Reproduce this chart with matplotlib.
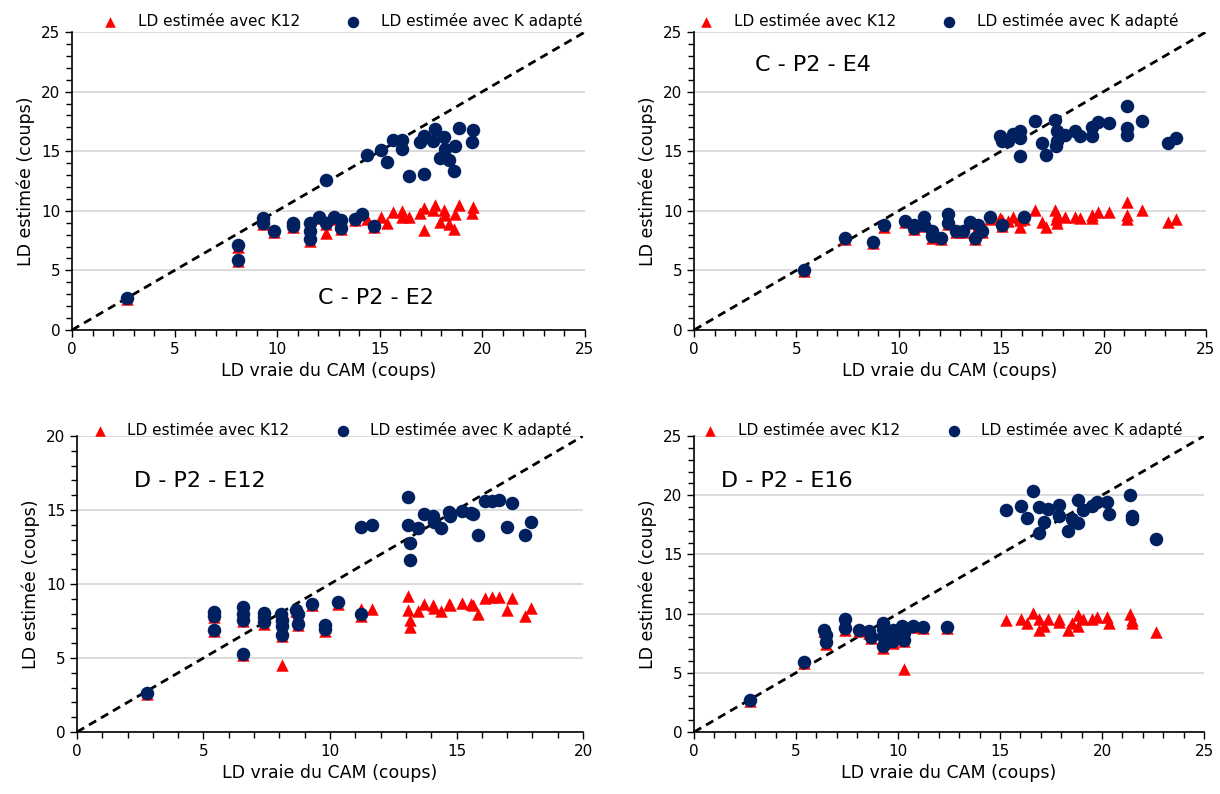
import matplotlib.pyplot as plt
from matplotlib.ticker import MultipleLocator

plt.rcParams['font.family'] = ['DejaVu Sans']

# C - P2 - E2
x_e2 = [2.7, 8.07, 8.07, 9.29, 9.29, 9.85, 10.76, 10.76, 11.59, 11.59, 11.59, 12.03, 12.39, 12.39,
        12.76, 13.13, 13.13, 13.77, 14.15, 14.4, 14.74, 15.04, 15.33, 15.62, 16.09, 16.09, 16.43,
        16.95, 17.14, 17.14, 17.61, 17.7, 17.92, 18.14, 18.2, 18.38, 18.63, 18.65, 18.85, 19.49, 19.53]
k12_e2 = [2.6, 7.0, 5.8, 9.3, 8.9, 8.2, 8.9, 8.6, 8.85, 8.2, 7.5, 9.4, 8.1, 8.9,
          9.35, 9.15, 8.45, 9.2, 9.7, 9.3, 8.65, 9.45, 8.95, 9.9, 9.95, 9.5, 9.5,
          9.85, 10.2, 8.4, 10.05, 10.45, 9.1, 10.1, 9.65, 8.9, 8.5, 9.7, 10.45, 9.85, 10.35]
kad_e2 = [2.7, 7.1, 5.9, 9.4, 9.0, 8.3, 9.0, 8.7, 8.95, 8.3, 7.6, 9.5, 12.6, 9.0,
          9.45, 9.25, 8.55, 9.3, 9.75, 14.65, 8.75, 15.1, 14.1, 15.9, 15.9, 15.15, 12.9,
          15.75, 16.3, 13.1, 15.85, 16.85, 14.4, 16.2, 15.2, 14.3, 13.35, 15.45, 16.95, 15.8, 16.8]

# C - P2 - E4
x_e4 = [5.38, 7.39, 8.73, 9.3, 10.32, 10.76, 10.76, 11.21, 11.21, 11.62, 11.62, 12.04, 12.38, 12.38,
        12.77, 13.11, 13.46, 13.7, 13.87, 14.07, 14.46, 14.92, 15.05, 15.05, 15.31, 15.56, 15.9,
        15.9, 15.9, 16.12, 16.66, 16.97, 17.19, 17.63, 17.73, 17.73, 17.67, 18.13, 18.61, 18.83,
        19.42, 19.45, 19.71, 20.26, 21.14, 21.14, 21.14, 21.87, 23.14, 23.55]
k12_e4 = [4.95, 7.6, 7.3, 8.65, 9.05, 8.7, 8.45, 9.4, 8.7, 8.2, 7.75, 7.65, 9.6, 8.85,
          8.2, 8.2, 9.0, 7.6, 8.7, 8.2, 9.35, 9.38, 8.75, 9.2, 9.16, 9.52, 9.38,
          8.63, 9.2, 9.35, 10.06, 9.05, 8.63, 10.06, 9.61, 8.99, 9.3, 9.44, 9.5, 9.38,
          9.61, 9.38, 9.89, 9.89, 10.73, 9.66, 9.3, 10.06, 9.07, 9.32]
kad_e4 = [5.05, 7.7, 7.42, 8.77, 9.15, 8.82, 8.55, 9.5, 8.82, 8.32, 7.85, 7.75, 9.7, 8.95,
          8.32, 8.32, 9.1, 7.7, 8.82, 8.32, 9.45, 16.27, 8.82, 15.88, 15.83, 16.44, 16.67,
          14.62, 16.11, 9.44, 17.51, 15.69, 14.65, 17.62, 16.67, 15.88, 15.41, 16.39, 16.67, 16.3,
          17.0, 16.3, 17.42, 17.37, 18.77, 16.95, 16.39, 17.56, 15.66, 16.08]

# D - P2 - E12
x_e12 = [2.77, 5.42, 5.42, 5.42, 6.55, 6.55, 6.55, 6.55, 7.4, 7.4, 7.4, 8.05, 8.1, 8.1, 8.1,
         8.66, 8.73, 8.73, 9.3, 9.82, 9.82, 10.33, 11.24, 11.24, 11.66, 13.09, 13.09, 13.16, 13.16,
         13.49, 13.73, 14.07, 14.11, 14.39, 14.69, 14.75, 15.23, 15.57, 15.64, 15.84, 16.12, 16.39,
         16.66, 16.98, 17.18, 17.7, 17.93]
k12_e12 = [2.6, 7.95, 7.75, 6.8, 8.3, 7.9, 7.5, 5.2, 7.95, 7.65, 7.3, 7.85, 4.55, 7.1, 6.5,
           8.15, 7.9, 7.2, 8.55, 7.1, 6.85, 8.65, 8.28, 7.85, 8.28, 9.22, 8.23, 7.6, 7.06,
           8.16, 8.66, 8.57, 8.4, 8.16, 8.66, 8.6, 8.73, 8.66, 8.6, 7.94, 9.06, 9.11,
           9.11, 8.23, 9.04, 7.87, 8.39]
kad_e12 = [2.64, 8.09, 7.87, 6.92, 8.43, 8.0, 7.6, 5.3, 8.05, 7.78, 7.42, 7.94, 7.6, 7.19, 6.58,
           8.27, 8.0, 7.33, 8.66, 7.22, 6.97, 8.77, 13.87, 7.94, 13.96, 15.87, 13.96, 12.74, 11.61,
           13.76, 14.72, 14.59, 14.18, 13.76, 14.86, 14.59, 14.93, 14.77, 14.7, 13.28, 15.58, 15.62,
           15.67, 13.87, 15.49, 13.28, 14.18]

# D - P2 - E16
x_e16 = [2.73, 5.39, 6.36, 6.45, 6.45, 7.38, 7.38, 8.07, 8.58, 8.66, 9.26, 9.26, 9.26, 9.26,
         9.77, 9.77, 10.2, 10.28, 10.28, 10.74, 11.22, 12.38, 15.28, 16.03, 16.34, 16.64, 16.93,
         16.93, 17.16, 17.36, 17.87, 17.87, 18.35, 18.52, 18.84, 18.84, 19.07, 19.49, 19.75, 20.26,
         20.34, 21.37, 21.49, 21.49, 22.65]
k12_e16 = [2.6, 5.8, 8.5, 8.1, 7.45, 9.4, 8.65, 8.5, 8.4, 7.9, 9.1, 8.6, 7.95, 7.1,
           8.55, 7.55, 8.9, 5.32, 7.7, 8.9, 8.75, 8.75, 9.44, 9.58, 9.18, 10.08, 9.58,
           8.62, 8.96, 9.52, 9.52, 9.3, 8.65, 9.18, 9.86, 8.96, 9.52, 9.58, 9.72, 9.72,
           9.24, 9.94, 9.18, 9.5, 8.45]
kad_e16 = [2.68, 5.92, 8.65, 8.23, 7.58, 9.55, 8.79, 8.62, 8.51, 8.03, 9.21, 8.7, 8.08, 7.24,
           8.65, 7.66, 8.99, 8.37, 7.8, 8.99, 8.87, 8.87, 18.73, 19.07, 18.06, 20.34, 19.01,
           16.82, 17.75, 18.85, 19.13, 18.23, 17.01, 18.0, 19.63, 17.61, 18.73, 19.07, 19.41, 19.41,
           18.37, 20.0, 18.28, 18.0, 16.31]

panels = [
    (x_e2, k12_e2, kad_e2, 'C - P2 - E2', 25, (12.0, 2.2), (0.52, 0.99)),
    (x_e4, k12_e4, kad_e4, 'C - P2 - E4', 25, (3.0, 21.7), (0.47, 0.99)),
    (x_e12, k12_e12, kad_e12, 'D - P2 - E12', 20, (2.25, 16.55), (0.496, 0.972)),
    (x_e16, k12_e16, kad_e16, 'D - P2 - E16', 25, (1.3, 20.7), (0.48, 0.972)),
]
positions = [
    [0.059, 0.5844, 0.4205, 0.3753],
    [0.5689, 0.5844, 0.4196, 0.3753],
    [0.0631, 0.0781, 0.4148, 0.3728],
    [0.5689, 0.0781, 0.418, 0.3728],
]

fig = plt.figure(figsize=(12.2, 7.94), dpi=100)

for (x, k12, kad, name, lim, tpos, lpos), pos in zip(panels, positions):
    ax = fig.add_axes(pos)
    ax.plot([0, lim], [0, lim], color='black', linestyle=(0, (3, 2)), linewidth=2, zorder=2)
    ax.scatter(x, k12, marker='^', s=80, color='#FF0000', linewidths=0, zorder=3,
               label='LD estimée avec K12')
    ax.scatter(x, kad, marker='o', s=95, color='#002060', linewidths=0, zorder=4,
               label='LD estimée avec K adapté')
    ax.set_xlim(0, lim)
    ax.set_ylim(0, lim)
    ax.xaxis.set_major_locator(MultipleLocator(5))
    ax.yaxis.set_major_locator(MultipleLocator(5))
    ax.xaxis.set_minor_locator(MultipleLocator(1))
    ax.yaxis.set_minor_locator(MultipleLocator(1))
    ax.tick_params(which='major', direction='out', length=5, width=1, labelsize=11, color='black')
    ax.tick_params(which='minor', direction='out', length=4, width=1, color='black')
    ax.grid(axis='y', which='major', color='#D9D9D9', linewidth=1.3, zorder=0)
    ax.set_axisbelow(True)
    for s in ['top', 'right']:
        ax.spines[s].set_visible(False)
    for s in ['left', 'bottom']:
        ax.spines[s].set_color('black')
        ax.spines[s].set_linewidth(1.2)
    ax.set_xlabel('LD vraie du CAM (coups)', fontsize=12.5)
    ax.set_ylabel('LD estimée (coups)', fontsize=12.5)
    ax.text(tpos[0], tpos[1], name, fontsize=16)
    ax.legend(loc='lower center', bbox_to_anchor=lpos, ncol=2, frameon=False, fontsize=11,
              markerscale=0.85, columnspacing=2.5, handletextpad=0.8, borderaxespad=0)

fig.savefig('out.png', dpi=100)
